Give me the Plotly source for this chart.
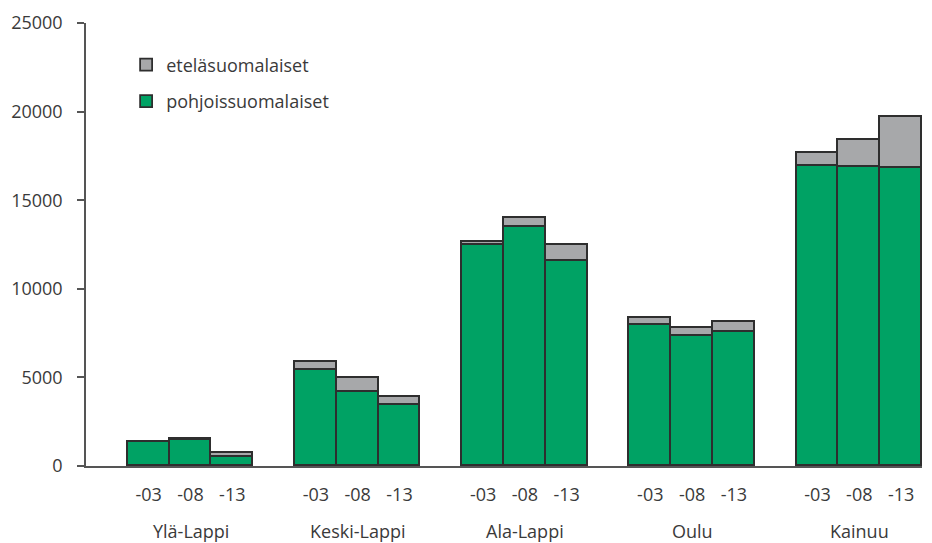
import plotly.graph_objects as go

regions = ["Ylä-Lappi", "Keski-Lappi", "Ala-Lappi", "Oulu", "Kainuu"]
years = ["-03", "-08", "-13"]

# values per region, years -03, -08, -13
pohjoissuomalaiset = [1330, 1480, 520,
                      5440, 4200, 3420,
                      12460, 13510, 11580,
                      7960, 7340, 7590,
                      16930, 16870, 16800]
etelasuomalaiset = [30, 70, 190,
                    430, 770, 500,
                    170, 500, 900,
                    370, 470, 520,
                    730, 1530, 2890]

# one empty slot between region groups
xpos = [4 * g + j for g in range(len(regions)) for j in range(len(years))]
xlabels = [y for _ in regions for y in years]

TEXT = "#3a3a3a"
EDGE = "#2e2e2e"
FONT = "Open Sans"

fig = go.Figure()

fig.add_trace(go.Bar(x=xpos, y=pohjoissuomalaiset,
                     name="pohjoissuomalaiset",
                     legendgroup="p", legendrank=2,
                     width=1,
                     marker=dict(color="#00a264",
                                 line=dict(color=EDGE, width=1.8))))

fig.add_trace(go.Bar(x=xpos, y=etelasuomalaiset,
                     name="eteläsuomalaiset",
                     legendgroup="e", legendrank=1,
                     width=1,
                     marker=dict(color="#a7a8aa",
                                 line=dict(color=EDGE, width=1.8))))

for g, region in enumerate(regions):
    fig.add_annotation(x=4 * g + 1, y=-0.146, xref="x", yref="paper",
                       text=region, showarrow=False, yanchor="middle",
                       font=dict(family=FONT, size=18, color=TEXT))

fig.update_layout(
    width=932, height=543,
    margin=dict(l=86, r=10, t=20, b=77),
    barmode="stack",
    bargap=0,
    plot_bgcolor="white",
    paper_bgcolor="white",
    font=dict(family=FONT, size=18, color=TEXT),
    showlegend=True,
    legend=dict(x=0.048, y=0.947, xanchor="left", yanchor="top",
                traceorder="grouped", tracegroupgap=10,
                bgcolor="rgba(0,0,0,0)",
                font=dict(family=FONT, size=18, color=TEXT)),
    xaxis=dict(range=[-1.5, 18.5],
               tickvals=xpos, ticktext=xlabels,
               ticks="outside", ticklen=12, tickcolor="rgba(0,0,0,0)",
               showline=True, linecolor="#555555", linewidth=1.5,
               showgrid=False, zeroline=False),
    yaxis=dict(range=[0, 25000], dtick=5000, tickformat="d",
               ticks="outside", ticklen=7, tickcolor="#555555", tickwidth=1.5,
               showline=True, linecolor="#555555", linewidth=1.5,
               showgrid=False, zeroline=False,
               ticklabelstandoff=11),
)

fig.write_html("out.html", config={"displayModeBar": False},
               post_script="document.body.style.margin='0';")
